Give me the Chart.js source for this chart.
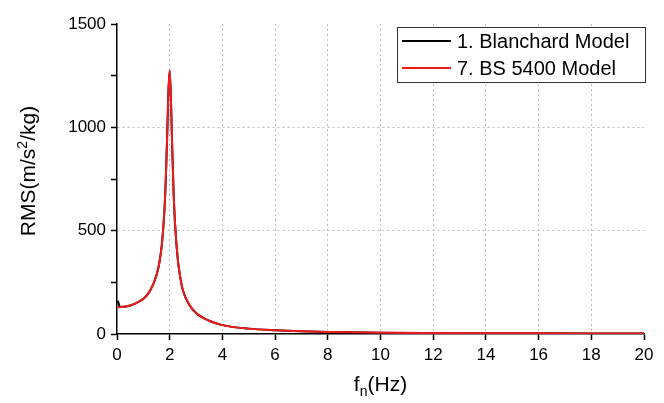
<!DOCTYPE html>
<html>
<head>
<meta charset="utf-8">
<script src="https://cdn.jsdelivr.net/npm/chart.js@4.4.0/dist/chart.umd.min.js"></script>
<style>
  body { margin: 0; background: #fff; }
</style>
</head>
<body>
<canvas id="myChart" width="664" height="403"></canvas>
<script>
// frequency (Hz)
const freq = [0, 0.04, 0.1, 0.25, 0.5, 0.75, 1, 1.25, 1.5, 1.6, 1.7, 1.8, 1.85, 1.9, 1.95, 2,
              2.05, 2.1, 2.15, 2.2, 2.3, 2.4, 2.5, 2.75, 3, 3.5, 4, 5, 6, 7, 8, 9, 10, 12, 14, 16, 18, 20];
// RMS values
const rmsBS5400 = [128, 129, 130, 132, 138, 151, 170, 208, 285, 340, 430, 600, 740, 940, 1170, 1275,
                   1120, 880, 680, 540, 370, 275, 212, 140, 102, 64, 43, 26, 18, 13, 10, 8, 6.5, 5, 4, 3.2, 2.6, 2.2];
const rmsBlanchard = [150, 158, 132, 132, 138, 151, 170, 208, 285, 340, 430, 600, 740, 940, 1170, 1275,
                      1120, 880, 680, 540, 370, 275, 212, 140, 102, 64, 43, 26, 18, 13, 10, 8, 6.5, 5, 4, 3.2, 2.6, 2.2];
const seriesNames = ['1. Blanchard Model', '7. BS 5400 Model'];
const seriesColors = ['#000000', '#ee1c1c'];

const font = '"Liberation Sans", Arial, sans-serif';

function pts(ys) {
    return freq.map((f, i) => ({x: f, y: ys[i]}));
}

// axis titles (with sub/superscript) and the framed legend
const overlay = {
    id: 'overlay',
    afterDraw(chart) {
        const ctx = chart.ctx;
        const a = chart.chartArea;
        ctx.save();
        ctx.fillStyle = '#000';
        ctx.textBaseline = 'alphabetic';

        // x title: f_n(Hz)
        const big = '21px ' + font, small = '14px ' + font;
        ctx.font = big;
        const wf = ctx.measureText('f').width;
        const wh = ctx.measureText('(Hz)').width;
        ctx.font = small;
        const wn = ctx.measureText('n').width;
        let x = (a.left + a.right) / 2 - (wf + wn + wh) / 2;
        const by = 391;
        ctx.font = big; ctx.fillText('f', x, by); x += wf;
        ctx.font = small; ctx.fillText('n', x, by + 5); x += wn;
        ctx.font = big; ctx.fillText('(Hz)', x, by);

        // y title: RMS(m/s^2/kg)
        ctx.save();
        ctx.translate(35, 171);
        ctx.rotate(-Math.PI / 2);
        ctx.font = big;
        const w1 = ctx.measureText('RMS(m/s').width;
        const w3 = ctx.measureText('/kg)').width;
        ctx.font = small;
        const w2 = ctx.measureText('2').width;
        let tx = -(w1 + w2 + w3) / 2;
        ctx.font = big; ctx.fillText('RMS(m/s', tx, 0); tx += w1;
        ctx.font = small; ctx.fillText('2', tx, -8); tx += w2;
        ctx.font = big; ctx.fillText('/kg)', tx, 0);
        ctx.restore();

        // legend box
        const lx = 397, ly = 27, lw = 248, lh = 55;
        ctx.fillStyle = '#fff';
        ctx.fillRect(lx, ly, lw, lh);
        ctx.strokeStyle = '#333';
        ctx.lineWidth = 1;
        ctx.strokeRect(lx + 0.5, ly + 0.5, lw, lh);
        ctx.font = '20px ' + font;
        ctx.textBaseline = 'middle';
        chart.data.datasets.forEach((ds, i) => {
            const yy = ly + 14 + i * 27;
            ctx.strokeStyle = ds.borderColor;
            ctx.lineWidth = 2;
            ctx.beginPath();
            ctx.moveTo(lx + 5, yy);
            ctx.lineTo(lx + 54, yy);
            ctx.stroke();
            ctx.fillStyle = '#000';
            ctx.fillText(ds.label, lx + 60, yy + 1);
        });
        ctx.restore();
    }
};

var ctx = document.getElementById('myChart').getContext('2d');
var chart = new Chart(ctx, {
    type: 'line',
    data: {
        datasets: [{
            label: seriesNames[0],
            data: pts(rmsBlanchard),
            borderColor: seriesColors[0],
            borderWidth: 2,
            pointRadius: 0,
            cubicInterpolationMode: 'monotone',
            order: 2
        }, {
            label: seriesNames[1],
            data: pts(rmsBS5400),
            borderColor: seriesColors[1],
            borderWidth: 2,
            pointRadius: 0,
            cubicInterpolationMode: 'monotone',
            order: 1
        }]
    },
    options: {
        responsive: false,
        animation: false,
        layout: { padding: { left: 0, top: 24, right: 20, bottom: 0 } },
        plugins: {
            legend: { display: false },
            tooltip: { enabled: false }
        },
        scales: {
            x: {
                type: 'linear',
                min: 0, max: 20,
                afterFit(scale) { scale.height = 69; },
                ticks: {
                    stepSize: 2,
                    color: '#000',
                    padding: 5,
                    maxRotation: 0,
                    font: { family: font, size: 17 }
                },
                grid: {
                    color: (c) => (c.tick && (c.tick.value === 0 || c.tick.value === 20)) ? 'rgba(0,0,0,0)' : '#bdbdbd',
                    tickColor: '#000',
                    tickLength: 6,
                    tickWidth: 1.5
                },
                border: { display: true, color: '#000', width: 1.5, dash: [2, 3] }
            },
            y: {
                min: 0, max: 1500,
                afterFit(scale) { scale.width = 117; },
                ticks: {
                    stepSize: 250,
                    color: '#000',
                    padding: 5,
                    font: { family: font, size: 17 },
                    callback: (v) => (v % 500 === 0 ? v : '')
                },
                grid: {
                    color: (c) => (c.tick && (c.tick.value === 500 || c.tick.value === 1000)) ? '#bdbdbd' : 'rgba(0,0,0,0)',
                    tickColor: '#000',
                    tickLength: 6,
                    tickWidth: 1.5
                },
                border: { display: true, color: '#000', width: 1.5, dash: [2, 3] }
            }
        }
    },
    plugins: [overlay]
});
</script>
</body>
</html>
